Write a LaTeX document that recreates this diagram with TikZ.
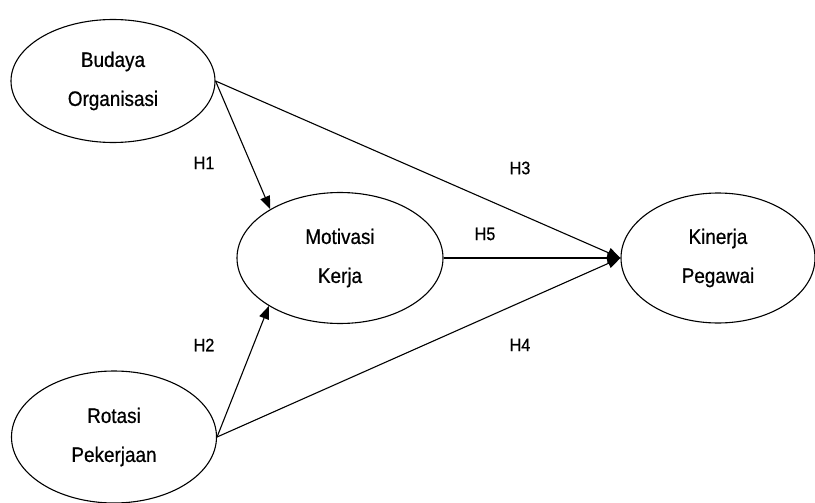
\documentclass[tikz,border=0pt]{standalone}
\usepackage{fontspec}
\setmainfont{Liberation Sans}
\newfontfamily\narrowfont{Liberation Sans}[FakeStretch=0.9,FakeBold=0.6]
\usepackage{tikz}
\usetikzlibrary{arrows.meta,shapes.geometric}
\tikzset{
  var/.style={draw, ellipse, line width=1.1pt, inner sep=0pt, align=center,
              font=\narrowfont\fontsize{21}{39}\selectfont},
  path/.style={-{Triangle[length=13pt,width=10pt]}, line width=1.1pt},
  hyp/.style={font=\narrowfont\fontsize{18}{20}\selectfont, inner sep=1pt},
}
\begin{document}
\begin{tikzpicture}[x=1pt,y=-1pt]
  \useasboundingbox (0,0) rectangle (815,503);
  \node[var, minimum width=204pt, minimum height=123pt] (budaya)   at (113,81)  {Budaya\\Organisasi};
  \node[var, minimum width=206pt, minimum height=131pt] (motivasi) at (340,258) {Motivasi\\Kerja};
  \node[var, minimum width=194pt, minimum height=130pt] (kinerja)  at (718,258) {Kinerja\\Pegawai};
  \node[var, minimum width=205pt, minimum height=132pt] (rotasi)   at (114,437) {Rotasi\\Pekerjaan};

  \draw[path] (budaya.east) -- (motivasi.145);
  \draw[path] (budaya.east) -- (kinerja.west);
  \draw[path] (rotasi.east) -- (motivasi.214);
  \draw[path] (rotasi.east) -- (kinerja.west);
  \draw[path] (motivasi.east) -- (kinerja.west);

  \node[hyp] (h1) at (204,163) {H1};
  \node[hyp] (h2) at (204,345) {H2};
  \node[hyp] (h3) at (520,168) {H3};
  \node[hyp] (h4) at (520,345) {H4};
  \node[hyp] (h5) at (485,234) {H5};
\end{tikzpicture}
\end{document}
